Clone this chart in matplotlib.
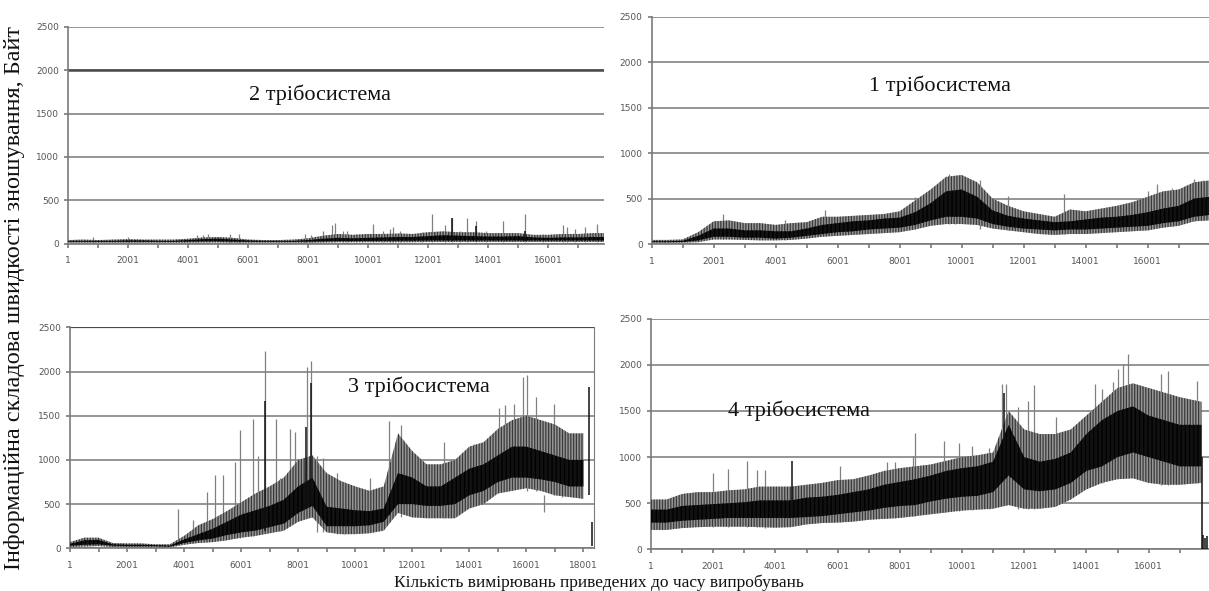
import numpy as np
import matplotlib.pyplot as plt

# measurement index grid (every 500 measurements)
x_grid = np.arange(0, 18001, 500)

# panel "2 трібосистема" (top left)
p2_top = [40, 45, 40, 45, 50, 45, 45, 45, 55, 70, 75, 65, 45, 40, 40, 45, 60, 90, 110, 100, 110,
          110, 115, 110, 130, 140, 130, 130, 120, 120, 120, 100, 100, 110, 110, 120, 120]
p2_core_hi = [30, 30, 30, 30, 35, 35, 30, 30, 40, 50, 55, 45, 35, 30, 30, 30, 40, 55, 65, 60, 65,
              70, 75, 75, 85, 95, 90, 85, 80, 80, 85, 70, 65, 70, 70, 75, 75]
p2_core_lo = [20, 20, 20, 20, 20, 20, 20, 20, 22, 25, 25, 22, 20, 20, 20, 20, 22, 25, 28, 28, 30,
              30, 32, 32, 35, 35, 35, 35, 35, 35, 35, 35, 35, 35, 35, 35, 35]
p2_bottom = [10, 10, 10, 10, 10, 10, 10, 10, 10, 12, 12, 10, 10, 10, 10, 10, 10, 12, 15, 15, 15,
             15, 15, 15, 18, 18, 18, 18, 18, 18, 18, 18, 18, 18, 18, 18, 18]
p2_spike_x = [830, 2000, 4300, 4500, 4650, 5400, 5700, 7900, 8100, 8500, 8780, 8900, 9170, 9280,
              9600, 9780, 10170, 10500, 10720, 10830, 11050, 11780, 12110, 12560, 12780, 13060,
              13300, 13580, 13940, 14500, 15220, 15830, 16500, 16610, 16890, 17220, 17610]
p2_spike_hi = [80, 80, 100, 100, 110, 115, 115, 115, 100, 150, 210, 240, 150, 150, 115, 115, 230,
               150, 170, 190, 150, 135, 340, 210, 290, 150, 300, 260, 150, 260, 335, 115, 210,
               190, 170, 190, 230]
p2_dark_x = [12780, 15220, 13580]
p2_dark_lo = [30, 30, 30]
p2_dark_hi = [290, 150, 200]

# panel "1 трібосистема" (top right)
p1_top = [45, 45, 50, 130, 250, 260, 230, 230, 210, 230, 240, 300, 300, 310, 320, 330, 360, 480,
          600, 740, 760, 680, 500, 420, 360, 330, 300, 380, 360, 390, 420, 460, 520, 580, 600,
          680, 700]
p1_core_hi = [30, 30, 35, 90, 170, 170, 150, 150, 140, 140, 170, 210, 230, 250, 260, 280, 290,
              350, 450, 580, 600, 520, 370, 310, 280, 260, 240, 250, 270, 290, 300, 320, 350,
              390, 420, 500, 520]
p1_core_lo = [20, 20, 22, 40, 80, 80, 70, 70, 60, 70, 90, 110, 130, 140, 160, 170, 180, 210, 260,
              300, 300, 280, 220, 190, 170, 160, 150, 160, 160, 170, 180, 190, 200, 230, 250,
              300, 320]
p1_bottom = [15, 15, 15, 20, 50, 50, 45, 40, 40, 45, 60, 80, 90, 100, 110, 120, 130, 160, 200,
             220, 220, 210, 170, 150, 130, 110, 100, 110, 110, 120, 130, 140, 150, 180, 200,
             250, 260]
p1_spike_x = [2300, 4300, 5600, 8500, 9600, 9800, 10600, 11500, 13300, 16000, 16300, 16800,
              17500, 17800]
p1_spike_hi = [330, 260, 370, 520, 770, 750, 710, 530, 550, 580, 660, 620, 720, 700]

# panel "3 трібосистема" (bottom left)
p3_top = [70, 120, 120, 60, 55, 55, 45, 45, 140, 260, 330, 420, 520, 620, 700, 800, 1000, 1050,
          850, 760, 700, 650, 700, 1300, 1100, 950, 950, 1000, 1150, 1200, 1350, 1450, 1500,
          1450, 1400, 1300, 1300]
p3_core_hi = [50, 90, 95, 45, 40, 40, 35, 30, 100, 160, 220, 300, 380, 430, 480, 550, 700, 800,
              470, 450, 430, 420, 450, 850, 800, 700, 700, 800, 900, 950, 1050, 1150, 1150,
              1100, 1050, 1000, 1000]
p3_core_lo = [30, 40, 45, 30, 25, 25, 25, 20, 60, 90, 110, 150, 180, 200, 240, 280, 400, 480,
              250, 250, 250, 260, 300, 500, 500, 480, 480, 500, 600, 650, 750, 800, 800, 780,
              750, 700, 700]
p3_bottom = [15, 20, 25, 15, 15, 15, 12, 10, 40, 60, 70, 90, 120, 140, 170, 200, 300, 350, 180,
             160, 160, 170, 200, 400, 350, 340, 340, 340, 450, 500, 620, 650, 680, 650, 600,
             580, 560]
p3_spike_x = [3800, 4330, 4800, 5080, 5380, 5780, 5960, 6430, 6600, 6830, 7220, 7360, 7710,
              7890, 8300, 8440, 8650, 8880, 9360, 9590, 10530, 11170, 11600, 13100, 13330,
              14150, 15030, 15260, 15550, 15880, 16020, 16330, 16950, 17250, 16600]
p3_spike_hi = [450, 320, 640, 830, 825, 975, 1340, 1460, 1040, 2230, 1460, 800, 1350, 1310,
               2050, 2120, 1040, 1020, 850, 750, 800, 1440, 1400, 1200, 970, 1180, 1590, 1620,
               1630, 1940, 1960, 1715, 1630, 1200, 410]
p3_dark_x = [6840, 8280, 8450, 18200, 18300]
p3_dark_lo = [200, 450, 500, 600, 30]
p3_dark_hi = [1670, 1370, 1875, 1820, 300]

# panel "4 трібосистема" (bottom right)
p4_x = [0, 500, 1000, 1500, 2000, 2500, 3000, 3500, 4000, 4500, 5000, 5500, 6000, 6500, 7000,
        7500, 8000, 8500, 9000, 9500, 10000, 10500, 11000, 11500, 12000, 12500, 13000, 13500,
        14000, 14500, 15000, 15500, 16000, 16500, 17000, 17700]
p4_top = [540, 540, 600, 620, 620, 640, 650, 680, 680, 680, 700, 720, 750, 760, 800, 850, 880,
          900, 920, 960, 1000, 1020, 1050, 1500, 1300, 1250, 1250, 1300, 1450, 1600, 1750, 1800,
          1750, 1700, 1650, 1600]
p4_core_hi = [430, 430, 470, 480, 490, 500, 510, 530, 530, 530, 560, 570, 590, 620, 650, 700,
              730, 760, 800, 850, 880, 900, 950, 1350, 1000, 950, 980, 1050, 1250, 1400, 1500,
              1550, 1450, 1400, 1350, 1350]
p4_core_lo = [290, 290, 310, 320, 330, 340, 340, 340, 340, 340, 350, 360, 380, 400, 420, 450,
              470, 480, 520, 550, 570, 580, 620, 800, 650, 630, 650, 720, 850, 900, 1000, 1050,
              1000, 950, 900, 900]
p4_bottom = [210, 210, 230, 240, 245, 245, 245, 240, 235, 240, 270, 285, 290, 300, 320, 330, 340,
             360, 380, 400, 420, 430, 440, 480, 440, 440, 460, 540, 650, 720, 760, 770, 720, 700,
             700, 720]
p4_spike_x = [2000, 2490, 3100, 3400, 3670, 6080, 7580, 7840, 8410, 8490, 9430, 9900, 10330,
              10860, 11300, 11400, 11800, 12120, 12300, 13020, 14270, 14490, 14870, 15030, 15180,
              15340, 16410, 16620, 17560]
p4_spike_hi = [830, 870, 960, 855, 860, 900, 950, 950, 1015, 1260, 1180, 1150, 1120, 1100, 1790,
               1790, 1540, 1610, 1780, 1440, 1790, 1735, 1810, 1960, 2010, 2120, 1900, 1930, 1830]
p4_dark_x = [4550, 11350, 17710, 17760, 17820, 17880]
p4_dark_lo = [400, 900, 0, 0, 0, 0]
p4_dark_hi = [960, 1700, 1000, 160, 120, 140]

panel_labels = ["2 трібосистема", "1 трібосистема", "3 трібосистема", "4 трібосистема"]
y_ticks = [0, 500, 1000, 1500, 2000, 2500]

W, H = 1209, 591
fig = plt.figure(figsize=(W / 100, H / 100), dpi=100)
plt.rcParams['hatch.linewidth'] = 0.9


def px_axes(x0, x1, y_top, y_bot):
    return fig.add_axes([x0 / W, 1 - y_bot / H, (x1 - x0) / W, (y_bot - y_top) / H])


ax2 = px_axes(68.3, 604, 27, 243.5)
ax1 = px_axes(651.7, 1209, 17, 244)
ax3 = px_axes(70, 594.3, 327.3, 548.3)
ax4 = px_axes(651, 1209, 318.8, 549.3)

panels = [
    (ax2, x_grid, p2_top, p2_core_hi, p2_core_lo, p2_bottom, p2_spike_x, p2_spike_hi,
     p2_dark_x, p2_dark_lo, p2_dark_hi, 17860, (8390, 1715)),
    (ax1, x_grid, p1_top, p1_core_hi, p1_core_lo, p1_bottom, p1_spike_x, p1_spike_hi,
     [], [], [], 17980, (9300, 1740)),
    (ax3, x_grid, p3_top, p3_core_hi, p3_core_lo, p3_bottom, p3_spike_x, p3_spike_hi,
     p3_dark_x, p3_dark_lo, p3_dark_hi, 18380, (12230, 1825)),
    (ax4, p4_x, p4_top, p4_core_hi, p4_core_lo, p4_bottom, p4_spike_x, p4_spike_hi,
     p4_dark_x, p4_dark_lo, p4_dark_hi, 17943, (4760, 1500)),
]

for i, (ax, xs, top, chi, clo, bot, sx, shi, dx, dlo, dhi, xmax, tpos) in enumerate(panels):
    xs = np.asarray(xs)
    bot = np.asarray(bot)
    # spikes start from the band bottom of the nearest grid point
    idx = np.clip(np.searchsorted(xs, sx), 0, len(xs) - 1)
    ax.vlines(sx, bot[idx], shi, color='#808080', lw=0.9, zorder=2)
    ax.fill_between(xs, bot, top, facecolor='#959595', edgecolor='#3a3a3a',
                    hatch='||||||', lw=0, zorder=3)
    ax.fill_between(xs, clo, chi, facecolor='#111111', edgecolor='#000000',
                    hatch='||||', lw=0, zorder=4)
    if dx:
        ax.vlines(dx, dlo, dhi, color='#111111', lw=1.1, zorder=5)

    ax.set_xlim(1, xmax)
    ax.set_ylim(0, 2500)
    ax.set_yticks(y_ticks)
    ax.set_xticks(np.arange(1, xmax, 2000))
    ax.set_xticks(np.arange(1001, xmax, 2000), minor=True)
    ax.grid(axis='y', color='#8c8c8c', lw=1.3, zorder=1)
    ax.set_axisbelow(True)
    for s in ['top', 'right']:
        ax.spines[s].set_visible(False)
    for s in ['left', 'bottom']:
        ax.spines[s].set_color('#7a7a7a')
        ax.spines[s].set_linewidth(1.2)
    ax.tick_params(axis='both', which='both', colors='#7a7a7a', labelcolor='#555555',
                   labelsize=6.5, length=3, width=1.2)
    ax.tick_params(axis='x', pad=6)
    ax.text(tpos[0], tpos[1], panel_labels[i], ha='center', va='center',
            family='Liberation Serif', fontsize=16, color='#111111', zorder=6)

ax2.axhline(2000, color='#4a4a4a', lw=1.8, zorder=1)
ax3.spines['right'].set_visible(True)
ax3.spines['right'].set_color('#7a7a7a')
ax3.axhline(2500, color='#4a4a4a', lw=1.6, zorder=1)

fig.text(15 / W, 1 - 298 / H, "Інформаційна складова швидкості зношування, Байт",
         rotation=90, ha='center', va='center', family='Liberation Serif', fontsize=17.5,
         color='#111111')
fig.text(599 / W, 1 - 583 / H, "Кількість вимірювань приведених до часу випробувань",
         ha='center', va='center', family='Liberation Serif', fontsize=12.5, color='#111111')

fig.savefig('out.png', dpi=100)
